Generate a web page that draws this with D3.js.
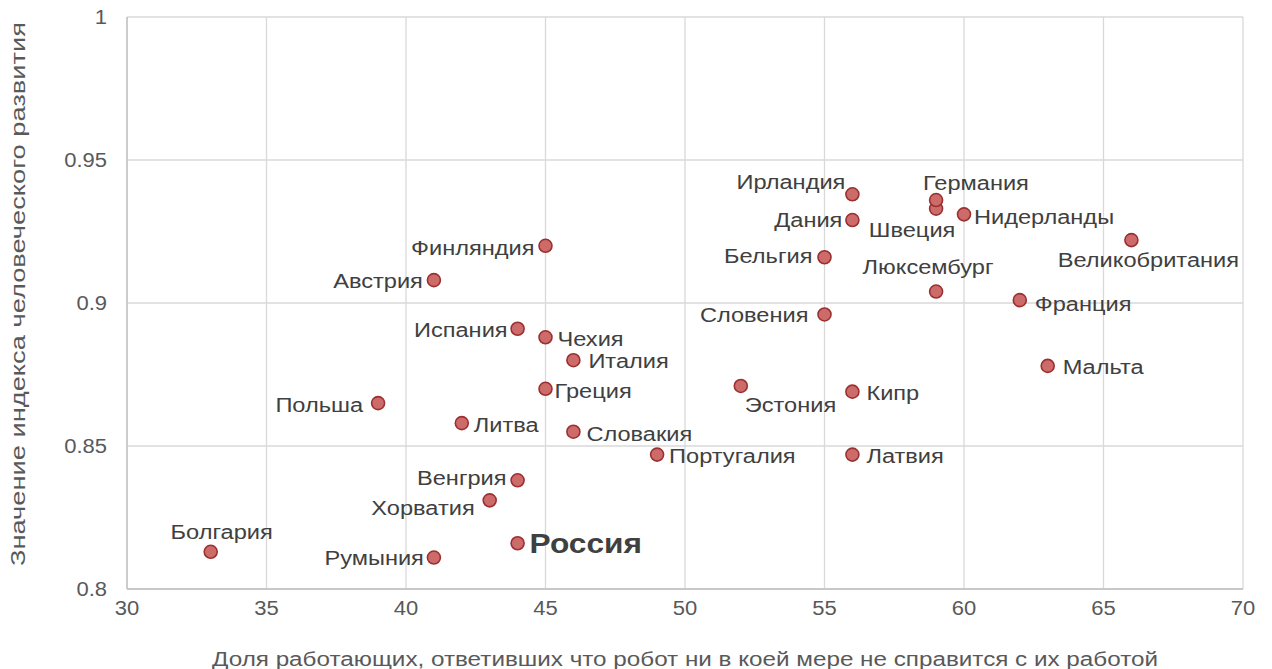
<!DOCTYPE html>
<html>
<head>
<meta charset="utf-8">
<script src="https://cdn.jsdelivr.net/npm/d3@7"></script>
<style>
  body { margin: 0; background: #fff; }
  text { font-family: "Liberation Sans", Arial, sans-serif; }
</style>
</head>
<body>
<svg id="chart" width="1272" height="669"></svg>
<script>
// data: share of workers who think a robot can't do their job vs HDI
var countries = ["Болгария", "Румыния", "Россия", "Хорватия", "Венгрия", "Португалия", "Латвия",
  "Словакия", "Литва", "Польша", "Греция", "Эстония", "Кипр", "Италия", "Мальта", "Чехия",
  "Испания", "Словения", "Франция", "Люксембург", "Австрия", "Бельгия", "Финляндия",
  "Великобритания", "Дания", "Нидерланды", "Швеция", "Германия", "Ирландия"];
var share = [33, 41, 44, 43, 44, 49, 56, 46, 42, 39, 45, 52, 56, 46, 63, 45,
  44, 55, 62, 59, 41, 55, 45, 66, 56, 60, 59, 59, 56];
var hdi = [0.813, 0.811, 0.816, 0.831, 0.838, 0.847, 0.847, 0.855, 0.858, 0.865, 0.870, 0.871,
  0.869, 0.880, 0.878, 0.888, 0.891, 0.896, 0.901, 0.904, 0.908, 0.916, 0.920, 0.922, 0.929,
  0.931, 0.933, 0.936, 0.938];
var xTicks = [30, 35, 40, 45, 50, 55, 60, 65, 70];
var yTicks = [0.8, 0.85, 0.9, 0.95, 1];

// label placement: [anchor, dx, dy]
var place = {
  "Болгария": ["middle", 11, -13], "Румыния": ["end", -10, 7], "Россия": ["start", 12, 10],
  "Хорватия": ["end", -15, 15], "Венгрия": ["end", -11, 5], "Португалия": ["start", 12, 8],
  "Латвия": ["start", 14, 8], "Словакия": ["start", 13, 9], "Литва": ["start", 12, 9],
  "Польша": ["end", -15, 9], "Греция": ["start", 9, 9], "Эстония": ["start", 4, 26],
  "Кипр": ["start", 14, 8], "Италия": ["start", 15, 8], "Мальта": ["start", 15, 8],
  "Чехия": ["start", 12, 9], "Испания": ["end", -10, 8], "Словения": ["end", -16, 8],
  "Франция": ["start", 15, 11], "Люксембург": ["middle", -8, -18], "Австрия": ["end", -11, 8],
  "Бельгия": ["end", -12, 6], "Финляндия": ["end", -11, 9], "Великобритания": ["middle", 17, 27],
  "Дания": ["end", -10, 7], "Нидерланды": ["start", 10, 10], "Швеция": ["middle", -24, 28],
  "Германия": ["start", -13, -10], "Ирландия": ["end", -7, -5]
};

var svg = d3.select("#chart");
var m = {left: 127, right: 29, top: 17, bottom: 80};
var W = 1272, H = 669;

var x = d3.scaleLinear().domain([30, 70]).range([m.left, W - m.right]);
var y = d3.scaleLinear().domain([0.8, 1]).range([H - m.bottom, m.top]);

// text in the source is drawn a bit wider than plain Arial
function widen(sel, k) {
  sel.each(function(d) {
    var f = typeof k === "function" ? k(d) : k;
    var len = this.getComputedTextLength();
    d3.select(this).attr("textLength", len * f).attr("lengthAdjust", "spacingAndGlyphs");
  });
}

// gridlines
svg.append("g").selectAll("line").data(xTicks).join("line")
    .attr("x1", d => x(d)).attr("x2", d => x(d))
    .attr("y1", y(0.8)).attr("y2", y(1))
    .attr("stroke", "#d9d9d9").attr("stroke-width", 1.3);
svg.append("g").selectAll("line").data(yTicks).join("line")
    .attr("x1", x(30)).attr("x2", x(70))
    .attr("y1", d => y(d)).attr("y2", d => y(d))
    .attr("stroke", "#d9d9d9").attr("stroke-width", 1.3);

// axis lines
svg.append("line").attr("x1", x(30)).attr("x2", x(30)).attr("y1", y(0.8)).attr("y2", y(1))
    .attr("stroke", "#bfbfbf").attr("stroke-width", 1.3);
svg.append("line").attr("x1", x(30)).attr("x2", x(70)).attr("y1", y(0.8)).attr("y2", y(0.8))
    .attr("stroke", "#bfbfbf").attr("stroke-width", 1.3);

// tick labels
svg.append("g").selectAll("text").data(xTicks).join("text")
    .attr("x", d => x(d)).attr("y", y(0.8) + 26)
    .attr("text-anchor", "middle").attr("font-size", 20).attr("fill", "#595959")
    .text(d => d)
    .call(widen, 1.1);
svg.append("g").selectAll("text").data(yTicks).join("text")
    .attr("x", x(30) - 20).attr("y", d => y(d) + 7)
    .attr("text-anchor", "end").attr("font-size", 20).attr("fill", "#595959")
    .text(d => d)
    .call(widen, 1.1);

// axis titles
svg.append("text").attr("x", (x(30) + x(70)) / 2).attr("y", 666)
    .attr("text-anchor", "middle").attr("font-size", 20).attr("fill", "#595959")
    .attr("textLength", 946).attr("lengthAdjust", "spacingAndGlyphs")
    .text("Доля работающих, ответивших что робот ни в коей мере не справится с их работой");
svg.append("text")
    .attr("transform", "translate(25," + ((y(0.8) + y(1)) / 2 - 9) + ") rotate(-90)")
    .attr("text-anchor", "middle").attr("font-size", 20).attr("fill", "#595959")
    .attr("textLength", 544).attr("lengthAdjust", "spacingAndGlyphs")
    .text("Значение индекса человеческого развития");

// points
var idx = d3.range(countries.length);
svg.append("g").selectAll("circle").data(idx).join("circle")
    .attr("cx", i => x(share[i])).attr("cy", i => y(hdi[i])).attr("r", 6.5)
    .attr("fill", "#cd6b6b").attr("stroke", "#9b3030").attr("stroke-width", 1.6);

// labels
svg.append("g").selectAll("text").data(idx).join("text")
    .attr("x", i => x(share[i]) + place[countries[i]][1])
    .attr("y", i => y(hdi[i]) + place[countries[i]][2])
    .attr("text-anchor", i => place[countries[i]][0])
    .attr("font-size", i => countries[i] === "Россия" ? 28 : 20)
    .attr("font-weight", i => countries[i] === "Россия" ? "bold" : "normal")
    .attr("fill", "#404040")
    .text(i => countries[i])
    .call(widen, i => countries[i] === "Россия" ? 1.13 : 1.18);
</script>
</body>
</html>
